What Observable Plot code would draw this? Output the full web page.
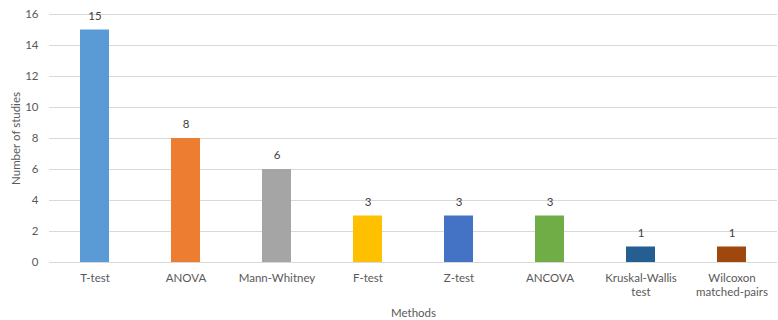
<!DOCTYPE html>
<html>
<head>
<meta charset="utf-8">
<script src="https://cdn.jsdelivr.net/npm/d3@7"></script>
<script src="https://cdn.jsdelivr.net/npm/@observablehq/plot@0.6"></script>
<style>
  html, body { margin: 0; padding: 0; background: #fff; }
  #chart svg { font-family: Lato, "Open Sans", sans-serif; }
</style>
</head>
<body>
<div id="chart"></div>
<script>
// Statistical methods and how many studies used each
const methods = ["T-test", "ANOVA", "Mann-Whitney", "F-test", "Z-test", "ANCOVA", "Kruskal-Wallis\ntest", "Wilcoxon\nmatched-pairs"];
const studies = [15, 8, 6, 3, 3, 3, 1, 1];
const colors = ["#5B9BD5", "#ED7D31", "#A5A5A5", "#FFC000", "#4472C4", "#70AD47", "#255E91", "#9E480E"];
const yTicks = [0, 2, 4, 6, 8, 10, 12, 14, 16];

const data = methods.map((m, i) => ({method: m, count: studies[i], color: colors[i]}));

const chart = Plot.plot({
  width: 778,
  height: 320,
  marginLeft: 49,
  marginRight: 1,
  marginTop: 14,
  marginBottom: 58,
  style: {fontSize: "11.5px", color: "#595959", background: "#fff"},
  x: {domain: methods, paddingInner: 0.68, paddingOuter: 0.34},
  y: {domain: [0, 16]},
  marks: [
    Plot.gridY(yTicks, {stroke: "#d9d9d9", strokeOpacity: 1, strokeWidth: 1}),
    Plot.barY(data, {x: "method", y: "count", fill: "color"}),
    Plot.text(data, {x: "method", y: "count", text: d => String(d.count), dy: -14, fill: "#404040", fontSize: 11.5}),
    Plot.axisY({ticks: yTicks, tickSize: 0, tickPadding: 11, label: "Number of studies", labelAnchor: "center", labelOffset: 38, labelArrow: "none", fill: "#595959"}),
    Plot.axisX({tickSize: 0, tickPadding: 9, label: "Methods", labelAnchor: "center", labelOffset: 54, labelArrow: "none", fill: "#595959", lineHeight: 1.25})
  ]
});
document.getElementById("chart").appendChild(chart);
</script>
</body>
</html>
